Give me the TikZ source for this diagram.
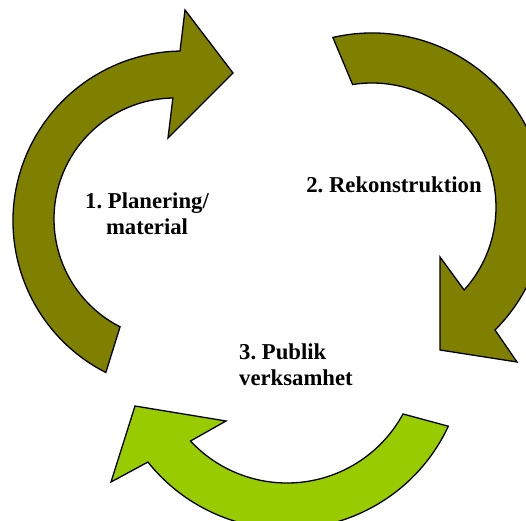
\documentclass[tikz,border=0pt]{standalone}
\usepackage{amsmath, amssymb}
\usepackage{xcolor}
\usepackage{fontspec}
\setmainfont{Liberation Serif}
\usepackage{tikz}
\usetikzlibrary{calc, positioning}

\definecolor{olivearrow}{HTML}{808000}
\definecolor{limearrow}{HTML}{99CC00}
\frenchspacing

\begin{document}
\begin{tikzpicture}[x=1pt, y=1pt,
        curvearrow/.style={draw=black, line width=1.3pt, line join=miter},
        steptext/.style={font=\bfseries\fontsize{22.7}{26}\selectfont, inner sep=0pt}]
            \newcommand{\OuterA}{170}
            \newcommand{\InnerA}{121}
            \newcommand{\OuterB}{174}
            \newcommand{\InnerB}{124}
            \newcommand{\OuterC}{178}
            \newcommand{\InnerC}{132}

            \clip (0,0) rectangle (526,520);

            \coordinate (C1o) at (183,299);
            \coordinate (C1i) at (175,301);
            \coordinate (C2) at (372,313);
            \coordinate (C3) at (287,169);

            \coordinate (H1a) at (185,510);
            \coordinate (T1) at (233,447);
            \coordinate (H1b) at (168,382);
            \coordinate (H2a) at (517,158);
            \coordinate (T2) at (440,170);
            \coordinate (H2b) at (440,263);
            \coordinate (H3a) at (111,38);
            \coordinate (T3) at (135,114);
            \coordinate (H3b) at (226,99);

            \draw[curvearrow, fill=olivearrow] ($(C1o)+(243:\OuterA)$) arc[start angle=243, end angle=91, radius=\OuterA]
                -- (H1a) -- (T1) -- (H1b)
                -- ($(C1i)+(91:\InnerA)$) arc[start angle=91, end angle=243, radius=\InnerA] -- cycle;% Planering

            \draw[curvearrow, fill=olivearrow] ($(C2)+(103:\OuterB)$) arc[start angle=103, end angle=-45, radius=\OuterB]
                -- (H2a) -- (T2) -- (H2b)
                -- ($(C2)+(-42:\InnerB)$) arc[start angle=-42, end angle=99, radius=\InnerB] -- cycle;% Rekonstruktion

            \draw[curvearrow, fill=limearrow] ($(C3)+(-25:\OuterC)$) arc[start angle=-25, end angle=-141.4, radius=\OuterC]
                -- (H3a) -- (T3) -- (H3b)
                -- ($(C3)+(-137:\InnerC)$) arc[start angle=-137, end angle=-28.5, radius=\InnerC] -- cycle;% Publik

            \node[steptext, align=center, anchor=base] (plan) at (147,286) {1. Planering/\\material};
            \node[steptext, anchor=base] (rekon) at (394,328) {2. Rekonstruktion};
            \node[steptext, align=left, anchor=base west] (publik) at (239,135) {3. Publik\\verksamhet};
        \end{tikzpicture}
\end{document}
